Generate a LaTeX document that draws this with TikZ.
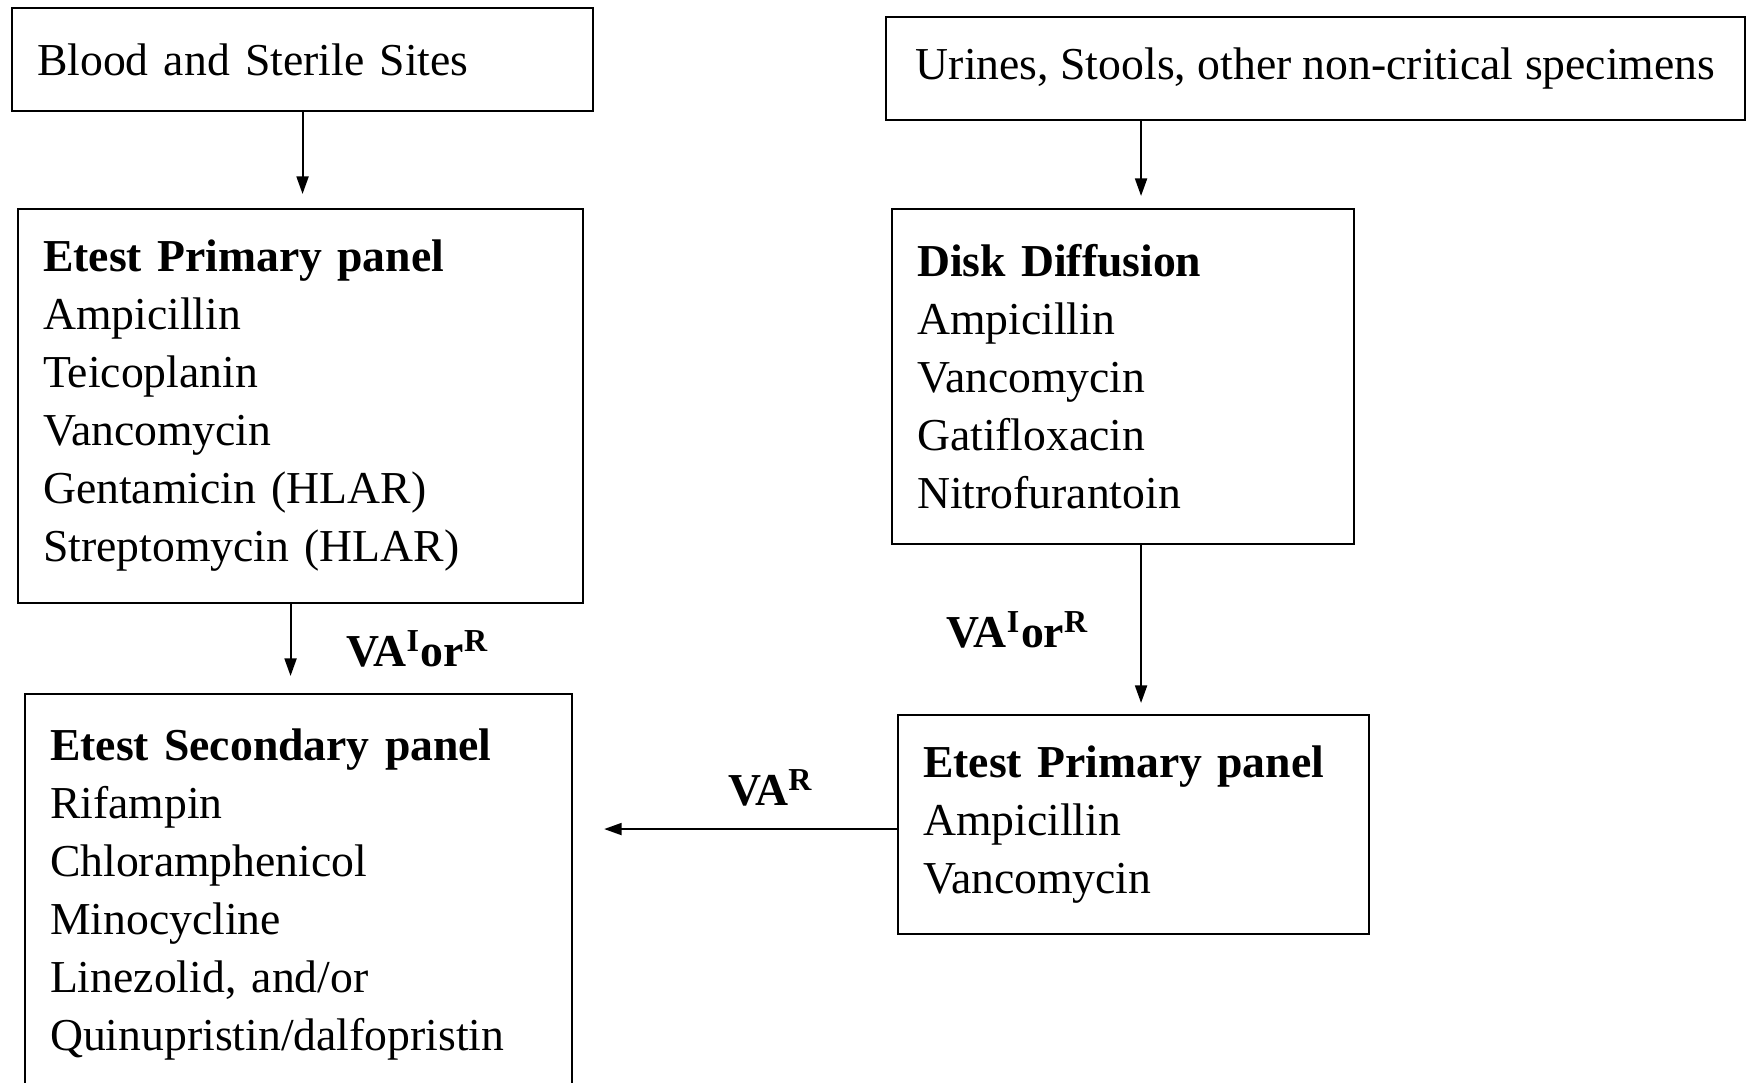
\documentclass[tikz,border=0pt]{standalone}
\usepackage{fontspec}
\setmainfont{Liberation Serif}
\usetikzlibrary{positioning,arrows.meta}

\begin{document}
\begin{tikzpicture}[
  box/.style={draw, line width=0.6pt, anchor=north west, align=left,
    inner xsep=0.25cm, inner ysep=0pt, font=\fontsize{13pt}{16.5pt}\selectfont},
  arr/.style={line width=0.6pt, -{Triangle[length=5pt,width=3.4pt]}},
  lbl/.style={inner sep=0pt, font=\fontsize{13pt}{16.5pt}\selectfont\bfseries}
]
\useasboundingbox (0,0) rectangle (17.46,-10.83);

% Specimen boxes
\node[box, text width=5.31cm, minimum height=1.03cm] (blood) at (0.11,-0.07)
  {Blood and Sterile Sites};
\node[box, align=center, minimum width=8.59cm, minimum height=1.03cm] (urine) at (8.85,-0.16)
  {Urines, Stools, other non-critical specimens};

% Test panels
\node[box, text width=5.15cm, minimum height=3.94cm] (etest) at (0.17,-2.08)
  {\textbf{Etest Primary panel}\\ Ampicillin\\ Teicoplanin\\ Vancomycin\\
   Gentamicin (HLAR)\\ Streptomycin (HLAR)};
\node[box, text width=4.12cm, minimum height=3.35cm] (disk) at (8.91,-2.08)
  {\textbf{Disk Diffusion}\\ Ampicillin\\ Vancomycin\\ Gatifloxacin\\ Nitrofurantoin};
\node[box, text width=4.97cm, minimum height=4.0cm] (second) at (0.24,-6.93)
  {\textbf{Etest Secondary panel}\\ Rifampin\\ Chloramphenicol\\ Minocycline\\
   Linezolid, and/or\\ Quinupristin/dalfopristin};
\node[box, text width=4.21cm, minimum height=2.19cm] (etestb) at (8.97,-7.14)
  {\textbf{Etest Primary panel}\\ Ampicillin\\ Vancomycin};

% Arrows
\coordinate (rx) at ([xshift=0.18cm]disk.north);
\draw[arr, shorten >=0.14cm] (blood.south) -- (blood.south |- etest.north);
\draw[arr, shorten >=0.12cm] (urine.south -| rx) -- (rx);
\draw[arr, shorten >=0.17cm] ([xshift=-0.1cm]etest.south) -- ([xshift=-0.1cm]etest.south |- second.north)
  node[lbl, midway, right=0.55cm] {VA\textsuperscript{I}or\textsuperscript{R}};
\draw[arr, shorten >=0.11cm] (disk.south -| rx) -- (rx |- etestb.north)
  node[lbl, midway, left=0.51cm] {VA\textsuperscript{I}or\textsuperscript{R}};
\draw[arr, shorten >=0.31cm] ([yshift=-0.045cm]etestb.west) -- ([yshift=-0.045cm]etestb.west -| second.east)
  node[lbl, pos=0.39, above=0.22cm] {VA\textsuperscript{R}};

\end{tikzpicture}
\end{document}
